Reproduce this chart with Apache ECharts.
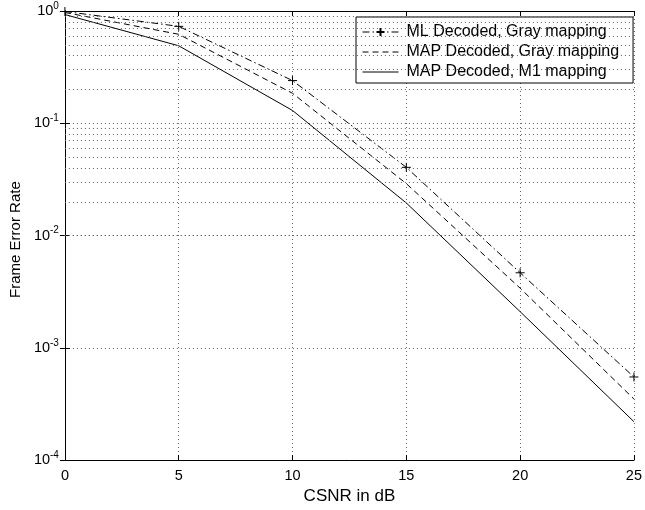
<!DOCTYPE html>
<html><head><meta charset="utf-8">
<script src="https://cdn.jsdelivr.net/npm/echarts@6/dist/echarts.min.js"></script>
<style>html,body{margin:0;padding:0;background:#fff}#c{width:645px;height:510px}</style>
</head><body><div id="c"></div>
<script>
const csnr = [0, 5, 10, 15, 20, 25];
const mlGray = [0.99, 0.73, 0.24, 0.0405, 0.00466, 0.00055];
const mapGray = [0.97, 0.62, 0.185, 0.029, 0.0034, 0.00035];
const mapM1 = [0.93, 0.49, 0.13, 0.0195, 0.0021, 0.00022];
const xTicks = [0, 5, 10, 15, 20, 25];
const yDecades = [1e-4, 1e-3, 1e-2, 1e-1, 1];
const minorMult = [2, 3, 4, 5, 6, 7, 8, 9];
const seriesNames = ['ML Decoded, Gray mapping', 'MAP Decoded, Gray mapping', 'MAP Decoded, M1 mapping'];
const xTitle = 'CSNR in dB';
const yTitle = 'Frame Error Rate';

const FONT = '"Liberation Sans", Arial, Helvetica, sans-serif';
const dotted = { type: [1, 3], color: '#666', width: 1 };

const minorLines = [];
yDecades.slice(0, 4).forEach(d => minorMult.forEach(k => minorLines.push({ yAxis: d * k })));

const pairs = arr => csnr.map((x, i) => [x, arr[i]]);

const chart = echarts.init(document.getElementById('c'), null, { renderer: 'canvas' });
chart.setOption({
  backgroundColor: '#fff',
  animation: false,
  textStyle: { fontFamily: FONT },
  grid: { left: 63, right: 6, top: 11, bottom: 45, containLabel: false },
  legend: {
    data: [
      { name: seriesNames[0] },
      { name: seriesNames[1], itemStyle: { opacity: 0 } },
      { name: seriesNames[2], itemStyle: { opacity: 0 } }
    ],
    orient: 'vertical',
    left: 356, top: 17,
    itemWidth: 36, itemHeight: 10, itemGap: 4,
    padding: [7, 14, 3, 6],
    borderColor: '#000', borderWidth: 1, backgroundColor: '#fff',
    lineStyle: { width: 1 },
    textStyle: { fontFamily: FONT, fontSize: 16, lineHeight: 16, color: '#000', padding: [0, 0, 0, 3] }
  },
  xAxis: [{
    type: 'value', min: 0, max: 25, interval: 5, position: 'bottom',
    name: xTitle, nameLocation: 'middle', nameGap: 25,
    nameTextStyle: { fontFamily: FONT, fontSize: 17, color: '#000' },
    axisLine: { show: true, lineStyle: { color: '#000', width: 1 } },
    axisTick: { show: true, inside: true, length: 5, lineStyle: { color: '#000' } },
    axisLabel: { fontFamily: FONT, fontSize: 14.5, color: '#000', margin: 8 },
    splitLine: { show: true, lineStyle: dotted }
  }, {
    type: 'value', min: 0, max: 25, interval: 5, position: 'top',
    axisLine: { show: true, lineStyle: { color: '#000', width: 1 } },
    axisTick: { show: true, inside: true, length: 5, lineStyle: { color: '#000' } },
    axisLabel: { show: false }, splitLine: { show: false }
  }],
  yAxis: [{
    type: 'log', logBase: 10, min: 1e-4, max: 1, position: 'left',
    name: yTitle, nameLocation: 'middle', nameGap: 40, nameRotate: 90,
    nameTextStyle: { fontFamily: FONT, fontSize: 15, color: '#000', padding: [0, 0, 0, -8] },
    axisLine: { show: true, lineStyle: { color: '#000', width: 1 } },
    axisTick: { show: true, inside: true, length: 5, lineStyle: { color: '#000' } },
    axisLabel: {
      margin: 6,
      formatter: v => '{b|10}{s|' + Math.round(Math.log10(v)) + '}',
      rich: {
        b: { fontFamily: FONT, fontSize: 14.5, color: '#000' },
        s: { fontFamily: FONT, fontSize: 10, color: '#000', verticalAlign: 'top', padding: [0, 0, 10, 0] }
      }
    },
    splitLine: { show: true, lineStyle: dotted }
  }, {
    type: 'log', logBase: 10, min: 1e-4, max: 1, position: 'right',
    axisLine: { show: true, lineStyle: { color: '#000', width: 1 } },
    axisTick: { show: true, inside: true, length: 5, lineStyle: { color: '#000' } },
    axisLabel: { show: false }, splitLine: { show: false }
  }],
  series: [{
    name: seriesNames[0], type: 'line', data: pairs(mlGray),
    symbol: 'path://M0,5L10,5M5,0L5,10', symbolSize: 9, showSymbol: true,
    itemStyle: { color: 'rgba(0,0,0,0)', borderColor: '#000', borderWidth: 1 },
    lineStyle: { color: '#000', width: 1, type: [7, 3, 1.5, 3] },
    z: 3
  }, {
    name: seriesNames[1], type: 'line', data: pairs(mapGray),
    symbol: 'none', itemStyle: { color: '#000' },
    lineStyle: { color: '#000', width: 1, type: [6, 4] },
    z: 3
  }, {
    name: seriesNames[2], type: 'line', data: pairs(mapM1),
    symbol: 'none', itemStyle: { color: '#000' },
    lineStyle: { color: '#000', width: 1, type: 'solid' },
    z: 3,
    markLine: {
      silent: true, symbol: 'none', animation: false,
      label: { show: false },
      lineStyle: dotted,
      data: minorLines
    }
  }]
});
</script>
</body></html>
